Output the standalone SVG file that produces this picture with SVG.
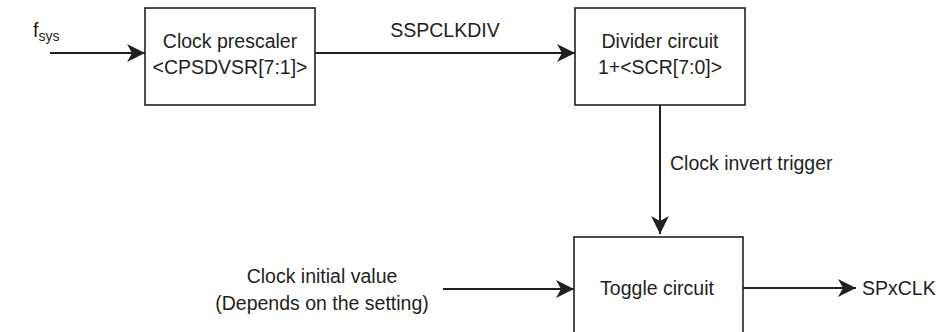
<svg xmlns="http://www.w3.org/2000/svg" width="941" height="332" viewBox="0 0 941 332">
<style>
text{font-family:"Liberation Sans",Arial,sans-serif;font-size:19.5px;fill:#231f20}
.box{fill:#fff;stroke:#231f20;stroke-width:1.6}
.wire{fill:none;stroke:#231f20;stroke-width:2}
</style>
<defs>
<marker id="ah" markerUnits="userSpaceOnUse" markerWidth="20" markerHeight="18" refX="18" refY="9" orient="auto">
<path d="M0,0 L18,9 L0,18 L5,9 Z" fill="#231f20"/>
</marker>
</defs>
<rect width="941" height="332" fill="#fff"/>
<g id="connectors">
<line class="wire" x1="50" y1="53" x2="145" y2="53" marker-end="url(#ah)"/>
<line class="wire" x1="315" y1="53" x2="575" y2="53" marker-end="url(#ah)"/>
<line class="wire" x1="660" y1="105" x2="660" y2="234" marker-end="url(#ah)"/>
<line class="wire" x1="443" y1="289" x2="574" y2="289" marker-end="url(#ah)"/>
<line class="wire" x1="743" y1="288" x2="856" y2="288" marker-end="url(#ah)"/>
<text x="445" y="37" text-anchor="middle">SSPCLKDIV</text>
<text x="670" y="170">Clock invert trigger</text>
</g>
<g id="fsys">
<text x="33" y="37">f<tspan font-size="14" dy="4">sys</tspan></text>
</g>
<g id="prescaler">
<rect class="box" x="145" y="8" width="170" height="97"/>
<text x="230" y="48" text-anchor="middle">Clock prescaler</text>
<text x="230" y="74" text-anchor="middle">&lt;CPSDVSR[7:1]&gt;</text>
</g>
<g id="divider">
<rect class="box" x="575" y="8" width="170" height="97"/>
<text x="660" y="48" text-anchor="middle">Divider circuit</text>
<text x="660" y="74" text-anchor="middle">1+&lt;SCR[7:0]&gt;</text>
</g>
<g id="initial">
<text x="322" y="283" text-anchor="middle">Clock initial value</text>
<text x="322" y="310" text-anchor="middle">(Depends on the setting)</text>
</g>
<g id="toggle">
<rect class="box" x="574" y="237" width="169" height="110"/>
<text x="657" y="295" text-anchor="middle">Toggle circuit</text>
</g>
<g id="spxclk">
<text x="862" y="295">SPxCLK</text>
</g>
</svg>
